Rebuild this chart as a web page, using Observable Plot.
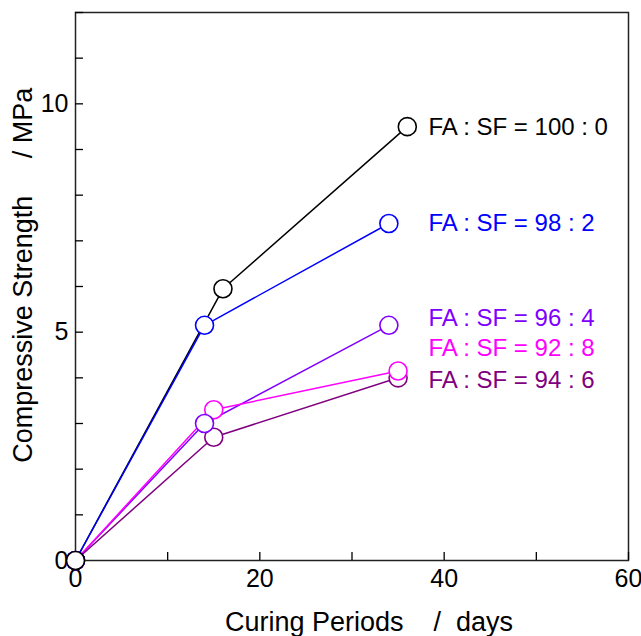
<!DOCTYPE html>
<html><head><meta charset="utf-8">
<script src="https://cdn.jsdelivr.net/npm/d3@7"></script>
<script src="https://cdn.jsdelivr.net/npm/@observablehq/plot@0.6"></script>
<style>body{margin:0;background:#fff}</style>
</head><body><div id="chart"></div>
<script>
const seriesNames = ["FA : SF = 100 : 0", "FA : SF = 98 : 2", "FA : SF = 96 : 4", "FA : SF = 92 : 8", "FA : SF = 94 : 6"];
const seriesColors = ["#000000", "#0000ff", "#8000ff", "#ff00ff", "#800080"];
const days = [
  [0, 16, 36],
  [0, 14, 34],
  [0, 14, 34],
  [0, 15, 35],
  [0, 15, 35]
];
const strength = [
  [0, 5.95, 9.5],
  [0, 5.15, 7.38],
  [0, 3.0, 5.15],
  [0, 3.3, 4.15],
  [0, 2.7, 4.0]
];
const labelX = [38.3, 38.3, 38.3, 38.3, 38.3];
const labelY = [9.48, 7.38, 5.3, 4.64, 3.94];
const xTicks = [0, 10, 20, 30, 40, 50, 60];
const xLabels = [0, 20, 40, 60];
const yTicks = [0, 1, 2, 3, 4, 5, 6, 7, 8, 9, 10, 11, 12];
const yLabels = [0, 5, 10];
const xTitle = "Curing Periods\u00a0\u00a0\u00a0\u00a0/\u00a0\u00a0days";
const yTitle = "\u00a0\u00a0\u00a0Compressive Strength\u00a0\u00a0\u00a0\u00a0\u00a0/ MPa";

const rows = [];
seriesNames.forEach((s, i) => days[i].forEach((d, j) => rows.push({series: s, idx: i, x: d, y: strength[i][j]})));
const labels = seriesNames.map((s, i) => ({series: s, x: labelX[i], y: labelY[i], color: seriesColors[i]}));

const marks = [
  Plot.frame({stroke: "#222", strokeWidth: 1.5}),
  Plot.axisX({ticks: xTicks, tickSize: -8, tickFormat: () => "", strokeWidth: 1.3, label: null}),
  Plot.axisX({ticks: xLabels, tickSize: 0, tickPadding: 9, fontSize: 25, label: null}),
  Plot.axisY({ticks: yTicks, tickSize: -8, tickFormat: () => "", strokeWidth: 1.3, label: null}),
  Plot.axisY({ticks: yLabels, tickSize: 0, tickPadding: 7, fontSize: 25, label: null}),
  Plot.axisY({ticks: [], label: yTitle, labelAnchor: "center", labelArrow: "none", labelOffset: 63, fontSize: 27}),
];
seriesNames.forEach((s, i) => {
  const d = rows.filter(r => r.idx === i);
  marks.push(Plot.line(d, {x: "x", y: "y", stroke: seriesColors[i], strokeWidth: 1.5}));
});
seriesNames.slice().reverse().forEach((s, k) => {
  const i = seriesNames.length - 1 - k;
  const d = rows.filter(r => r.idx === i);
  marks.push(Plot.dot(d, {x: "x", y: "y", r: 9, fill: "white", stroke: seriesColors[i], strokeWidth: 1.6}));
});
marks.push(Plot.text(labels, {x: "x", y: "y", text: "series", fill: "color", textAnchor: "start", fontSize: 24}));
marks.push(Plot.text([xTitle], {frameAnchor: "bottom", text: d => d, dy: 70, dx: 17, fontSize: 27}));

const chart = Plot.plot({
  width: 641, height: 636,
  marginLeft: 75, marginRight: 13, marginTop: 12, marginBottom: 76,
  style: {fontFamily: "'Liberation Sans', Arial, sans-serif", color: "#000", background: "#fff", overflow: "visible"},
  x: {domain: [0, 60], axis: null},
  y: {domain: [0, 12], axis: null},
  marks
});
document.getElementById("chart").append(chart);
</script></body></html>
